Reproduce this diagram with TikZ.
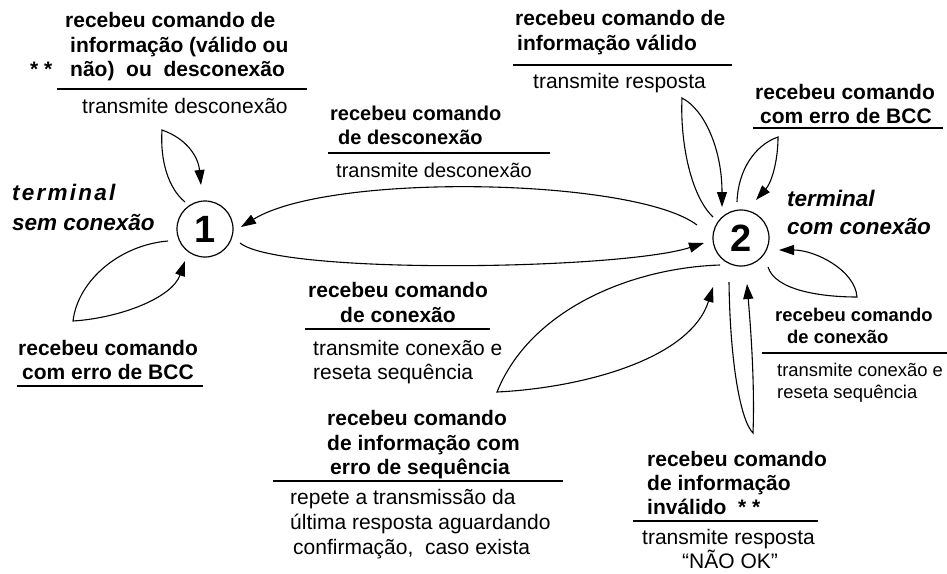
\documentclass[tikz,border=0pt]{standalone}
\usepackage{fontspec}
\setmainfont{Liberation Sans}
\usetikzlibrary{arrows.meta,calc}
\begin{document}
\begin{tikzpicture}[x=1pt,y=-1pt,
  st/.style={circle,draw,line width=1.2pt,minimum size=56pt,inner sep=0pt,font=\fontsize{38}{40}\selectfont\bfseries},
  bl/.style={anchor=base west,inner sep=0pt,font=\fontsize{21}{24}\selectfont\bfseries},
  nl/.style={anchor=base west,inner sep=0pt,font=\fontsize{21}{24}\selectfont},
  bm/.style={anchor=base west,inner sep=0pt,font=\fontsize{20}{24}\selectfont\bfseries},
  nm/.style={anchor=base west,inner sep=0pt,font=\fontsize{20}{24}\selectfont},
  bs/.style={anchor=base west,inner sep=0pt,font=\fontsize{18.4}{22}\selectfont\bfseries},
  ns/.style={anchor=base west,inner sep=0pt,font=\fontsize{18.4}{22}\selectfont},
  it/.style={anchor=base west,inner sep=0pt,font=\fontsize{22.5}{26}\selectfont\bfseries\itshape},
  rule/.style={line width=1.2pt},
  arr/.style={line width=1.1pt,-{Triangle[length=15pt,width=10pt]}},
]
\useasboundingbox (0,0) rectangle (947,573);

% states
\node[st] (c1) at (205,229) {1};
\node[st] (c2) at (741,238) {2};

% state labels
\node[it] (t1a) at (12,200) {\addfontfeature{LetterSpace=10}terminal};
\node[it] (t1b) at (12,230) {sem conexão};
\node[it] (t2a) at (787,206) {terminal};
\node[it] (t2b) at (787,234) {com conexão};

% block A (top-left)
\node[bl] (a1) at (65,27) {recebeu comando de};
\node[bl] (a2) at (70,52) {informação (válido ou};
\node[bl] (a3) at (70,76) {não)\ \ ou\ \ desconexão};
\node[bl] (a0) at (30,76) {* *};
\draw[rule] (57,89) -- (307,89);
\node[nl] (a4) at (82,113) {transmite desconexão};

% bottom-left
\node[bl] (b1) at (18,355) {recebeu comando};
\node[bl] (b2) at (22,379) {com erro de BCC};
\draw[rule] (17,386) -- (203,386);

% middle-top
\node[bm] (d1) at (330,120) {recebeu comando};
\node[bm] (d2) at (338,144) {de desconexão};
\draw[rule] (328,153) -- (550,153);
\node[nm] (d3) at (336,177) {transmite desconexão};

% top-center
\node[bl] (v1) at (515,25) {recebeu comando de};
\node[bl] (v2) at (517,50) {informação válido};
\draw[rule] (513,65) -- (732,65);
\node[nl] (v3) at (533,88) {transmite resposta};

% top-right
\node[bl] (e1) at (755,99) {recebeu comando};
\node[bl] (e2) at (760,123) {com erro de BCC};
\draw[rule] (753,128) -- (943,128);

% right
\node[bs] (r1) at (775,321) {recebeu comando};
\node[bs] (r2) at (787,343) {de conexão};
\draw[rule] (762,353) -- (947,353);
\node[ns] (r3) at (777,376) {transmite conexão e};
\node[ns] (r4) at (777,398) {reseta sequência};

% middle-bottom
\node[bl] (m1) at (308,297) {recebeu comando};
\node[bl] (m2) at (340,322) {de conexão};
\draw[rule] (305,329) -- (490,329);
\node[nl] (m3) at (313,355) {transmite conexão e};
\node[nl] (m4) at (313,379) {reseta sequência};

% sequence error
\node[bl] (s1) at (327,425) {recebeu comando};
\node[bl] (s2) at (327,450) {de informação com};
\node[bl] (s3) at (330,474) {erro de sequência};
\draw[rule] (273,481) -- (563,481);
\node[nl] (s4) at (290,504) {repete a transmissão da};
\node[nl] (s5) at (290,529) {última resposta aguardando};
\node[nl] (s6) at (293,554) {confirmação,\ \ caso exista};

% bottom-right
\node[bl] (i1) at (647,466) {recebeu comando};
\node[bl] (i2) at (647,490) {de informação};
\node[bl] (i3) at (647,514) {inválido\ \ * *};
\draw[rule] (633,521) -- (818,521);
\node[nl] (i4) at (642,544) {transmite resposta};
\node[nl] (i5) at (682,568) {“NÃO OK”};

% apex coordinates
\coordinate (p1) at (162,130);
\coordinate (p2) at (73,321);
\coordinate (p3) at (682,98);
\coordinate (p4) at (778,137);
\coordinate (p5) at (857,297);
\coordinate (p6) at (753,433);
\coordinate (p7) at (497,392);

% connectors
\draw[arr] ($(c1)+(-20,-27)$) .. controls (168,188) and (160,160) .. (p1) .. controls (185,138) and (198,155) .. ($(c1)+(-4,-44)$);
\draw[arr] ($(c1)+(-37,12)$) .. controls (120,245) and (78,280) .. (p2) .. controls (120,318) and (172,298) .. ($(c1)+(-20,32)$);
\draw[arr] ($(c2)+(-44,-13)$) .. controls (635,178) and (330,172) .. ($(c1)+(36,-2)$);
\draw[arr] ($(c1)+(35,14)$) .. controls (280,275) and (620,270) .. ($(c2)+(-37,5)$);
\draw[arr] ($(c2)+(-28,-21)$) .. controls (690,195) and (680,140) .. (p3) .. controls (705,110) and (722,150) .. ($(c2)+(-19,-31)$);
\draw[arr] ($(c2)+(-4,-36)$) .. controls (738,170) and (755,145) .. (p4) .. controls (778,160) and (772,182) .. ($(c2)+(15,-38)$);
\draw[arr] ($(c2)+(27,29)$) .. controls (775,290) and (820,297) .. (p5) .. controls (855,270) and (815,250) .. ($(c2)+(38,12)$);
\draw[arr] ($(c2)+(-12,44)$) .. controls (730,360) and (740,420) .. (p6) .. controls (755,380) and (750,320) .. ($(c2)+(6,46)$);
\draw[arr] ($(c2)+(-21,27)$) .. controls (630,268) and (530,310) .. (p7) .. controls (580,388) and (690,360) .. ($(c2)+(-28,49)$);
\end{tikzpicture}
\end{document}
